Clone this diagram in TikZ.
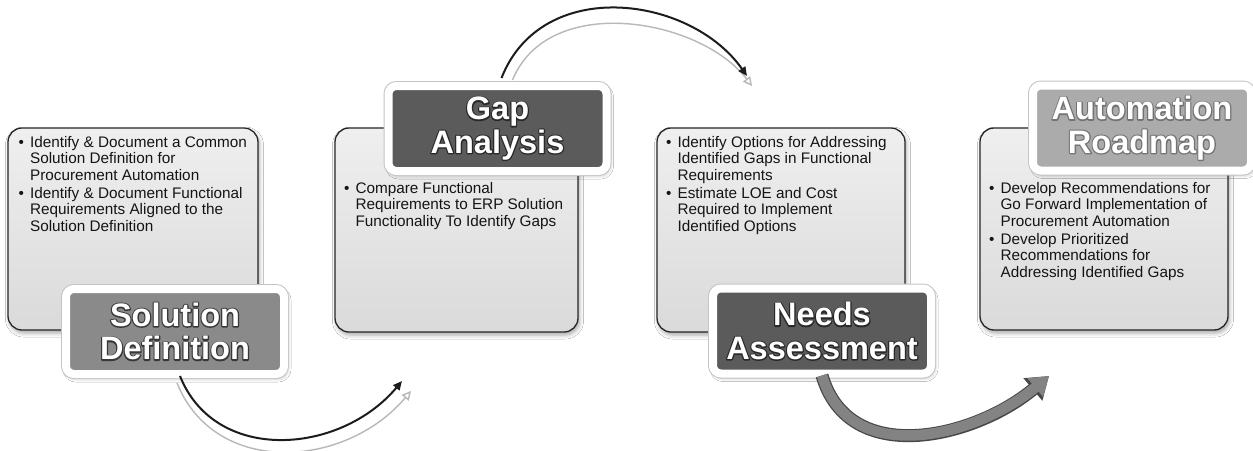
\documentclass[tikz,border=0pt]{standalone}
\usepackage{fontspec}
\setmainfont{Liberation Sans}
\usetikzlibrary{arrows.meta,shadows.blur}

\definecolor{ink}{HTML}{141414}
\definecolor{frame}{HTML}{262626}
\definecolor{paneltop}{HTML}{EFEFEF}
\definecolor{panelbot}{HTML}{DADADA}
\definecolor{tagmid}{HTML}{8A8A8A}
\definecolor{tagdark}{HTML}{5B5B5B}
\definecolor{taglight}{HTML}{ABABAB}
\definecolor{tagrim}{HTML}{C4C4C4}
\definecolor{loopline}{HTML}{1C1C1C}
\definecolor{loopecho}{HTML}{B8B8B8}
\definecolor{bandfill}{HTML}{838383}
\definecolor{bandedge}{HTML}{474747}

% white lettering over a stroked outline of itself (#1 = outline grey level)
\newcommand\haloline[2]{\leavevmode
  \rlap{\special{pdf:code 1 Tr #1 G 2.4 w 1 j}#2\special{pdf:code 0 Tr}}%
  \textcolor{white}{#2}}

% bulleted lines with a hanging indent
\newcommand\pointlist[1]{\begin{tabular}[t]{@{}l@{\hspace{6pt}}l@{}}#1\end{tabular}}

\begin{document}
\begin{tikzpicture}[x=1pt,y=-1pt,
  panel/.style={draw=frame, line width=1.3pt, rounded corners=14pt,
    top color=paneltop, bottom color=panelbot, inner sep=0pt,
    blur shadow={shadow xshift=1.5pt, shadow yshift=-3pt,
      shadow opacity=35, shadow blur radius=4pt}},
  points/.style={anchor=base west, inner sep=0pt, text=ink,
    font=\fontsize{15.3}{16.5}\selectfont},
  tag/.style={rounded corners=8pt, draw=white, line width=8pt, inner sep=0pt,
    minimum width=218pt, minimum height=85pt, align=center,
    font=\fontsize{32.5}{33.5}\selectfont\bfseries,
    blur shadow={shadow xshift=2pt, shadow yshift=-3pt,
      shadow opacity=40, shadow blur radius=5pt},
    preaction={draw=tagrim, line width=10pt}},
  loop/.style={draw=loopline, line width=2pt,
    -{Triangle[length=9pt,width=8pt]}},
  echo/.style={draw=loopecho, line width=1.4pt,
    -{Triangle[length=9pt,width=9pt,open]}},
]
\fill[white] (0,0) rectangle (1253,450);
\useasboundingbox (0,0) rectangle (1253,450);

% ---------- panels ----------
\node[panel, minimum width=250pt, minimum height=202pt] (B1) at (133,229) {};
\node[panel, minimum width=243pt, minimum height=204pt] (B2) at (456.5,230) {};
\node[panel, minimum width=248pt, minimum height=204pt] (B3) at (781,230) {};
\node[panel, minimum width=248pt, minimum height=202pt] (B4) at (1104,229) {};

\node[points] (T1) at (18.5,147) {\pointlist{%
  • & Identify \& Document a Common\\
    & Solution Definition for\\
    & Procurement Automation\\[1.5pt]
  • & Identify \& Document Functional\\
    & Requirements Aligned to the\\
    & Solution Definition}};
\node[points] (T2) at (344,193) {\pointlist{%
  • & Compare Functional\\
    & Requirements to ERP Solution\\
    & Functionality To Identify Gaps}};
\node[points] (T3) at (666,147) {\pointlist{%
  • & Identify Options for Addressing\\
    & Identified Gaps in Functional\\
    & Requirements\\[1.5pt]
  • & Estimate LOE and Cost\\
    & Required to Implement\\
    & Identified Options}};
\node[points] (T4) at (989,193) {\pointlist{%
  • & Develop Recommendations for\\
    & Go Forward Implementation of\\
    & Procurement Automation\\[1.5pt]
  • & Develop Prioritized\\
    & Recommendations for\\
    & Addressing Identified Gaps}};

% ---------- step tags ----------
\node[tag, fill=tagmid] (L1) at (175,331.5)
  {\haloline{0.22}{Solution}\\\haloline{0.22}{Definition}};
\node[tag, fill=tagdark] (L2) at (497.5,128.5)
  {\haloline{0.16}{Gap}\\\haloline{0.16}{Analysis}};
\node[tag, fill=tagdark] (L3) at (822,331)
  {\haloline{0.16}{Needs}\\\haloline{0.16}{Assessment}};
\node[tag, fill=taglight] (L4) at (1142,128)
  {\haloline{0.45}{Automation}\\\haloline{0.45}{Roadmap}};

% ---------- connectors ----------
\coordinate (a1s) at ([xshift=5pt,yshift=2pt]L1.south);
\coordinate (a1e) at (402,381);
\coordinate (a2s) at ([xshift=4pt,yshift=4pt]L2.north);
\coordinate (a2e) at (747,76);
\coordinate (a3s) at ([yshift=2pt]L3.south);
\coordinate (a3e) at (1049,376);

% echo lines running beside the thin loops
\draw[echo] ([xshift=-3pt,yshift=-7pt]a1s) .. controls +(38,94) and +(-66,78) .. ([xshift=9pt,yshift=-10pt]a1e);
\draw[echo] ([xshift=11pt,yshift=-2pt]a2s) .. controls +(36,-88) and +(-52,-68) .. ([xshift=5pt,yshift=-10pt]a2e);

\draw[loop] (a1s) .. controls +(35,88) and +(-62,74) .. (a1e);
\draw[loop] (a2s) .. controls +(40,-102) and +(-57,-81) .. (a2e);

% broad grey loop
\draw[bandedge, line width=13pt, -{Triangle[length=21pt,width=28pt]}]
  (a3s) .. controls +(27,93) and +(-74,62) .. (a3e);
\draw[bandfill, line width=10.5pt, -{Triangle[length=18pt,width=23pt]}]
  (a3s) .. controls +(27,93) and +(-74,62) .. (a3e);
\end{tikzpicture}
\end{document}
